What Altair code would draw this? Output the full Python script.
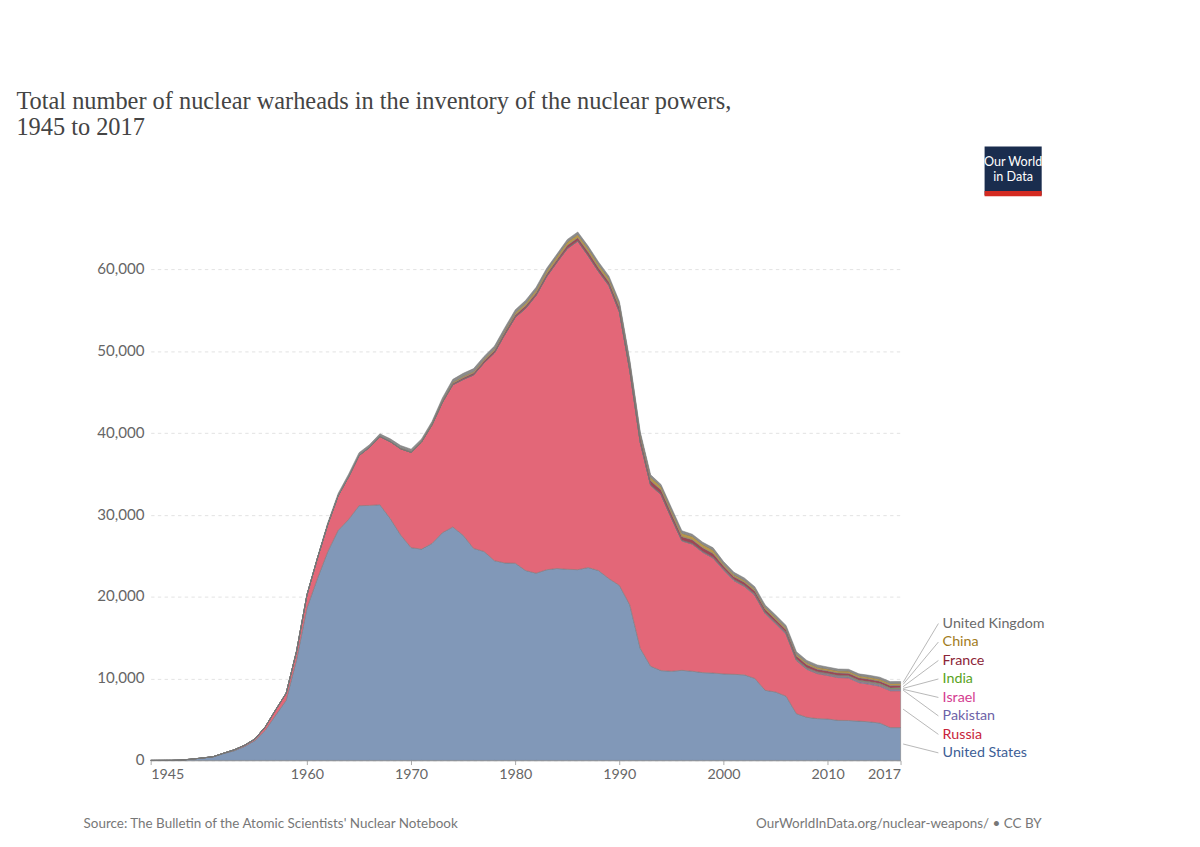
import pandas as pd
import altair as alt

years = list(range(1945, 2018))

us = [2, 9, 13, 50, 170, 299, 438, 841, 1169, 1703, 2422, 3692, 5543, 7345, 12298, 18638,
      22229, 25540, 28133, 29463, 31139, 31175, 31255, 29561, 27552, 26008, 25830, 26516,
      27835, 28537, 27519, 25914, 25542, 24418, 24138, 24104, 23208, 22886, 23305, 23459,
      23368, 23317, 23575, 23205, 22217, 21392, 19008, 13708, 11511, 10979, 10904, 11011,
      10903, 10732, 10685, 10577, 10526, 10457, 10027, 8570, 8360, 7853, 5709, 5273, 5113,
      5066, 4897, 4881, 4804, 4717, 4571, 4018, 4018]
russia = [0, 0, 0, 0, 1, 5, 25, 50, 120, 150, 200, 426, 660, 869, 1060, 1605, 2471, 3322,
          4238, 5221, 6129, 7089, 8339, 9399, 10538, 11643, 13092, 14478, 15915, 17385, 19055,
          21205, 23044, 25393, 27935, 30062, 32049, 33952, 35804, 37431, 39197, 40159, 38107,
          36538, 35805, 33417, 28595, 25155, 22101, 21500, 18699, 15824, 15549, 14708, 14043,
          12709, 11444, 10813, 10159, 9363, 8344, 7575, 6490, 5853, 5500, 5317, 5230, 5200,
          4700, 4600, 4500, 4500, 4500]
uk = ([0] * 8 + [1, 5, 10, 15, 20, 22, 25, 30, 50, 205, 280, 310, 310, 270, 270, 280, 308,
      280, 220, 220, 275, 325] + [350] * 7 + [335, 320, 270] + [300] * 9
      + [250, 300, 300, 260, 260] + [280] * 11 + [225] * 8)
france = ([0] * 19 + [4, 32, 36, 36, 36, 36, 36, 45, 70, 116, 145, 188, 212, 228, 235, 235,
          250, 274, 274, 279, 280, 360, 355, 420, 411, 404, 505, 540, 540, 525, 510, 500]
          + [450] * 4 + [350] * 9 + [300] * 9)
china = ([0] * 19 + [1, 5, 20, 25, 35, 50, 75, 100, 130, 150, 170, 185, 190, 200, 220, 235,
         280, 330, 360, 380, 415, 420] + [420] * 14 + [250] * 10 + [260] * 8)
israel = ([0] * 22 + [2, 4, 6, 8, 10, 12, 15, 17, 20, 22, 24, 26, 28, 31, 33, 35, 37, 40, 42,
          44, 46, 48, 50, 53, 55, 57, 59, 61, 63, 66, 68, 70, 72] + [80] * 18)
india = [0] * 53 + [10, 15, 25, 30, 35, 40, 45, 50, 55, 60, 65, 70, 80, 80, 90, 90, 100, 110, 120, 130]
pakistan = [0] * 53 + [20, 25, 30, 35, 40, 45, 50, 55, 60, 65, 70, 80, 90, 100, 110, 120, 120, 130, 130, 140]

# stack order bottom -> top
countries = ['United States', 'Russia', 'Pakistan', 'Israel', 'India', 'France', 'China', 'United Kingdom']
series = [us, russia, pakistan, israel, india, france, china, uk]
fill_colors = ['#8198b8', '#e36778', '#8a7dba', '#df6fae', '#86b85a', '#9c4656', '#b8974a', '#8c8c8c']
label_colors = ['#3d5e96', '#c8233a', '#6e63a8', '#d43c90', '#5aa31e', '#8c2638', '#a27c1c', '#6b6b6b']

rows = []
for i, (c, s) in enumerate(zip(countries, series)):
    for y, v in zip(years, s):
        rows.append({'year': y, 'country': c, 'value': v, 'order': i})
df = pd.DataFrame(rows)

W, H = 893, 643
YMAX = 66000

base = alt.Chart(df).encode(
    x=alt.X('year:Q', title=None, scale=alt.Scale(domain=[1945, 2017], nice=False),
            axis=alt.Axis(values=[1945, 1960, 1970, 1980, 1990, 2000, 2010, 2017], format='d',
                          grid=False, labelFontSize=17, labelColor='#666', domainColor='#999',
                          tickColor='#999', labelFont='Lato', labelPadding=4)),
    y=alt.Y('value:Q', title=None, stack='zero', scale=alt.Scale(domain=[0, YMAX], nice=False),
            axis=alt.Axis(values=[0, 10000, 20000, 30000, 40000, 50000, 60000], format=',.0f',
                          domain=False, ticks=False, gridDash=[4, 4], gridColor='#ddd',
                          labelFontSize=18, labelColor='#666', labelFont='Lato', labelPadding=8)),
    color=alt.Color('country:N', scale=alt.Scale(domain=countries, range=fill_colors), legend=None),
    order=alt.Order('order:Q'),
)
areas = base.mark_area(opacity=1, stroke='#777', strokeWidth=0.6, interpolate='linear')

# right-hand labels
label_order = list(reversed(countries))
cum = 0
ends = {}
for c, s in zip(countries, series):
    ends[c] = H - (cum + s[-1] / 2) / YMAX * H
    cum += s[-1]
lab = pd.DataFrame({
    'name': label_order,
    'ly': [H - 163 + 22 * i for i in range(8)],
    'ey': [ends[c] for c in label_order],
    'col': [label_colors[countries.index(c)] for c in label_order],
})
lines = alt.Chart(lab).mark_rule(color='#aaa', strokeWidth=1).encode(
    x=alt.value(W + 3), y=alt.Y('ey:Q', scale=None),
    x2=alt.value(W + 45), y2=alt.Y2('ly'))
labels = alt.Chart(lab).mark_text(align='left', baseline='middle', fontSize=17, font='Lato').encode(
    x=alt.value(W + 50), y=alt.Y('ly:Q', scale=None),
    text='name:N', color=alt.Color('col:N', scale=None))

# source line and logo
foot = pd.DataFrame({'t': ["Source: The Bulletin of the Atomic Scientists' Nuclear Notebook",
                           'OurWorldInData.org/nuclear-weapons/ • CC BY']})
src = alt.Chart(foot.iloc[[0]]).mark_text(align='left', fontSize=16, color='#777', font='Lato').encode(
    x=alt.value(-80), y=alt.value(H + 75), text='t:N')
src2 = alt.Chart(foot.iloc[[1]]).mark_text(align='right', fontSize=16, color='#777', font='Lato').encode(
    x=alt.value(W + 168), y=alt.value(H + 75), text='t:N')
logo = alt.Chart(pd.DataFrame({'a': [1]})).mark_rect(color='#1a2d4e').encode(
    x=alt.value(W + 100), x2=alt.value(W + 168), y=alt.value(-88), y2=alt.value(-30))
logo_red = alt.Chart(pd.DataFrame({'a': [1]})).mark_rect(color='#d42b21').encode(
    x=alt.value(W + 100), x2=alt.value(W + 168), y=alt.value(-35), y2=alt.value(-29))
logo_txt = alt.Chart(pd.DataFrame({'t': ['Our World', 'in Data'], 'py': [-70, -52]})).mark_text(
    color='white', fontSize=15, font='Lato', align='center').encode(
    x=alt.value(W + 134), y=alt.Y('py:Q', scale=None), text='t:N')

chart = alt.layer(areas, lines, labels, src, src2, logo, logo_red, logo_txt).properties(
    width=W, height=H,
    title=alt.TitleParams(
        ['Total number of nuclear warheads in the inventory of the nuclear powers,', '1945 to 2017'],
        anchor='start', font='Liberation Serif', fontSize=29, fontWeight='normal', color='#444',
        offset=8, dx=-80),
    padding={'left': 10, 'top': 10, 'right': 175, 'bottom': 20},
).configure_view(stroke=None)

chart.save("out.html", embed_options={"renderer": "svg", "actions": False})
